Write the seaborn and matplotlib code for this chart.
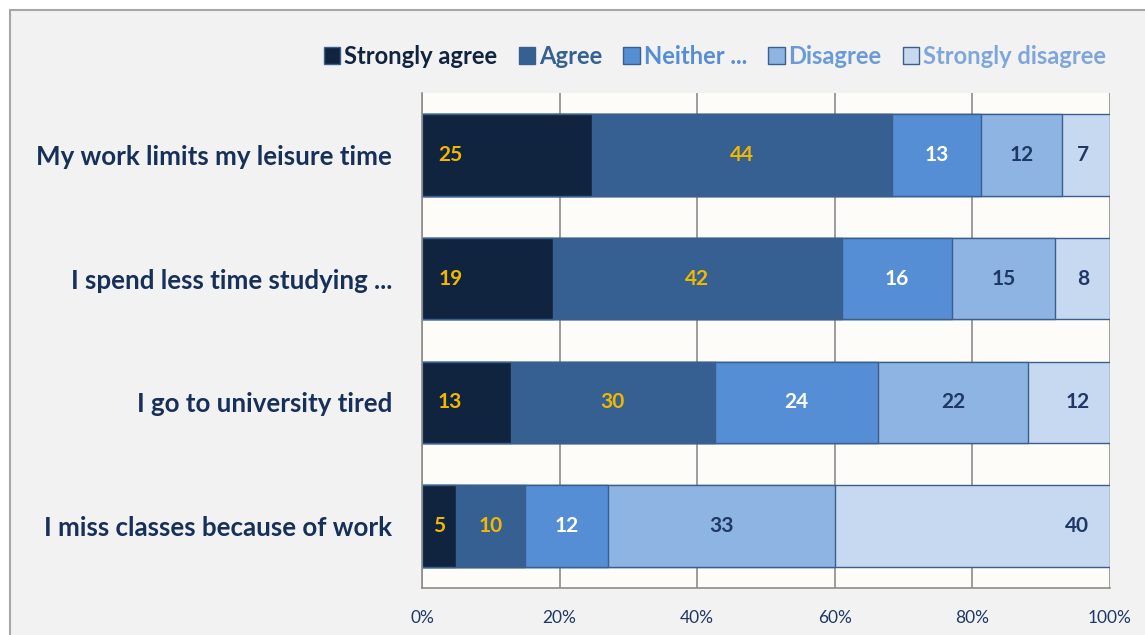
import numpy as np
import pandas as pd
import matplotlib
matplotlib.use("Agg")
import matplotlib.pyplot as plt
from matplotlib.patches import Rectangle, Patch
import seaborn as sns

questions = ["My work limits my leisure time",
             "I spend less time studying ...",
             "I go to university tired",
             "I miss classes because of work"]
series = ["Strongly agree", "Agree", "Neither ...", "Disagree", "Strongly disagree"]
strongly_agree = [25, 19, 13, 5]
agree = [44, 42, 30, 10]
neither = [13, 16, 24, 12]
disagree = [12, 15, 22, 33]
strongly_disagree = [7, 8, 12, 40]
x_ticks = [0, 20, 40, 60, 80, 100]
x_tick_labels = ["0%", "20%", "40%", "60%", "80%", "100%"]

colors = ["#10243F", "#376092", "#558ED5", "#8EB4E3", "#C6D9F1"]
legend_text_colors = ["#10243F", "#376092", "#558ED5", "#6A9BD8", "#7EA6DC"]
label_colors = ["#F2B800", "#F2B800", "#FFFFFF", "#1F3864", "#1F3864"]
edge = "#3A5F8C"

sns.set_theme(style="white")
plt.rcParams["font.family"] = ["Lato", "DejaVu Sans"]

vals = np.array([strongly_agree, agree, neither, disagree, strongly_disagree], dtype=float)
pct = vals / vals.sum(axis=0) * 100
cum = np.cumsum(pct, axis=0)

fig = plt.figure(figsize=(11.45, 6.35), dpi=100, facecolor="white")
fig.patches.append(Rectangle((10 / 1145, -0.1), 1.2, 1 - 10 / 635 + 0.1,
                             transform=fig.transFigure, facecolor="#F2F2F2",
                             edgecolor="#A6A6A6", linewidth=1.5, zorder=-10))
ax = fig.add_axes([422 / 1145, 47 / 635, 688 / 1145, 495 / 635])
ax.set_facecolor("#FDFCF8")

for k in reversed(range(5)):
    df = pd.DataFrame({"q": questions, "v": cum[k]})
    sns.barplot(data=df, x="v", y="q", orient="h", color=colors[k], width=0.66,
                edgecolor=edge, linewidth=1.0, saturation=1, errorbar=None, ax=ax)

for k in range(5):
    for i in range(4):
        left = cum[k][i] - pct[k][i]
        center = left + pct[k][i] / 2
        txt = str(int(vals[k][i]))
        if k == 0:
            x, ha = min(center, 4.1), "center"
        elif k == 4:
            x, ha = 97.0, "right"
        else:
            x, ha = center, "center"
        ax.text(x, i, txt, ha=ha, va="center", color=label_colors[k],
                fontsize=15, fontweight="bold")

ax.set_xlim(0, 100)
ax.set_ylim(3.5, -0.5)
ax.set_xticks(x_ticks)
ax.set_xticklabels(x_tick_labels, color="#1F3864", fontsize=12.5)
ax.set_yticks([-0.5, 0.5, 1.5, 2.5, 3.5])
ax.set_yticklabels([])
ax.set_yticks(range(4), minor=True)
ax.set_yticklabels(questions, minor=True, color="#17305A", fontsize=18.6, fontweight="bold")
ax.tick_params(axis="y", which="major", length=12, width=1.2, color="#8C8C8C", direction="out")
ax.tick_params(axis="y", which="minor", length=0, pad=21.5)
ax.tick_params(axis="x", which="major", length=7, width=1.2, color="#8C8C8C", direction="out", pad=9)
ax.set_xlabel("")
ax.set_ylabel("")
ax.grid(axis="x", color="#8C8C8C", linewidth=1.2)
ax.grid(axis="y", visible=False)
ax.set_axisbelow(True)
for s in ["top", "right"]:
    ax.spines[s].set_visible(False)
for s in ["left", "bottom"]:
    ax.spines[s].set_color("#8C8C8C")
    ax.spines[s].set_linewidth(1.2)

handles = [Patch(facecolor=c, edgecolor=edge, linewidth=1.0) for c in colors]
leg = fig.legend(handles, series, loc="center right", bbox_to_anchor=(1106 / 1145, 1 - 56 / 635),
                 ncol=5, frameon=False, handlelength=0.7, handleheight=0.7,
                 handletextpad=0.15, columnspacing=0.9, borderpad=0, borderaxespad=0,
                 prop={"size": 17.1, "weight": "bold"})
for t, c in zip(leg.get_texts(), legend_text_colors):
    t.set_color(c)

fig.savefig("out.png", dpi=100, facecolor=fig.get_facecolor())
